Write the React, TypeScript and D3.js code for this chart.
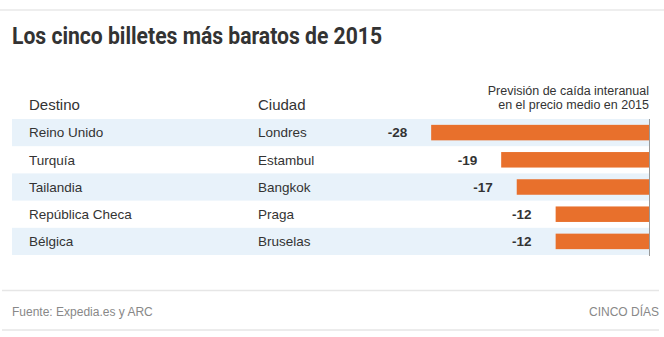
import React from "react";
import * as d3 from "d3";

const destinos = ["Reino Unido", "Turquía", "Tailandia", "República Checa", "Bélgica"];
const ciudades = ["Londres", "Estambul", "Bangkok", "Praga", "Bruselas"];
const caidas = [-28, -19, -17, -12, -12];

const titleText = "Los cinco billetes más baratos de 2015";
const colHeaders = ["Destino", "Ciudad"];
const noteLines = ["Previsión de caída interanual", "en el precio medio en 2015"];
const sourceText = "Fuente: Expedia.es y ARC";
const brandText = "CINCO DÍAS";

const W = 664;
const H = 337;
const FONT = "'Liberation Sans', Arial, Helvetica, sans-serif";

export default function App() {
  const x = d3.scaleLinear().domain([-30, 0]).range([649 - 30 * 7.78, 649]);
  const y = d3.scaleBand<string>().domain(destinos).range([119, 255]).paddingInner(0).paddingOuter(0);
  const step = y.step();
  const barH = step * 0.57;

  return (
    <div style={{ position: "absolute", left: 0, top: 0, width: W, height: H, background: "#fff" }}>
      <svg width={W} height={H} style={{ display: "block" }}>
        <rect width={W} height={H} fill="#fff" />
        <line x1={0} x2={W} y1={10} y2={10} stroke="#eeeeee" strokeWidth={2} />
        <text
          x={12}
          y={44}
          fontFamily="Roboto, 'Liberation Sans', sans-serif"
          fontWeight={700}
          fontSize={24}
          fill="#333"
          textLength={370}
          lengthAdjust="spacingAndGlyphs"
        >
          {titleText}
        </text>

        <text x={29} y={109.5} fontFamily={FONT} fontSize={15} fill="#333">{colHeaders[0]}</text>
        <text x={258} y={109.5} fontFamily={FONT} fontSize={15} fill="#333">{colHeaders[1]}</text>

        {noteLines.map((t, i) => (
          <text key={t} x={649} y={95 + i * 13.5} textAnchor="end" fontFamily={FONT} fontSize={12.5} fill="#333">
            {t}
          </text>
        ))}

        {destinos.map((d, i) => {
          const top = y(d)!;
          const cy = top + step / 2;
          return (
            <g key={d}>
              {i % 2 === 0 && <rect x={12} y={top} width={649 - 12} height={step} fill="#e8f2fa" />}
              <text x={29} y={cy + 4.8} fontFamily={FONT} fontSize={13.5} fill="#333">{d}</text>
              <text x={258} y={cy + 4.8} fontFamily={FONT} fontSize={13.5} fill="#333">{ciudades[i]}</text>
              <rect
                x={x(caidas[i])}
                y={cy - barH / 2}
                width={x(0) - x(caidas[i])}
                height={barH}
                fill="#e8702c"
              />
              <text
                x={x(caidas[i]) - 24}
                y={cy + 4.8}
                textAnchor="end"
                fontFamily={FONT}
                fontWeight={700}
                fontSize={13.5}
                fill="#333"
              >
                {caidas[i]}
              </text>
            </g>
          );
        })}

        <line x1={x(0) + 0.5} x2={x(0) + 0.5} y1={119} y2={256} stroke="#999" strokeWidth={1} />

        <line x1={2} x2={659} y1={290.5} y2={290.5} stroke="#e6e6e6" strokeWidth={1.5} />
        <text x={12} y={316} fontFamily={FONT} fontSize={12} fill="#888">{sourceText}</text>
        <text x={659} y={316} textAnchor="end" fontFamily={FONT} fontSize={12} fill="#888">{brandText}</text>
        <line x1={2} x2={659} y1={330} y2={330} stroke="#e6e6e6" strokeWidth={1.5} />
      </svg>
    </div>
  );
}
